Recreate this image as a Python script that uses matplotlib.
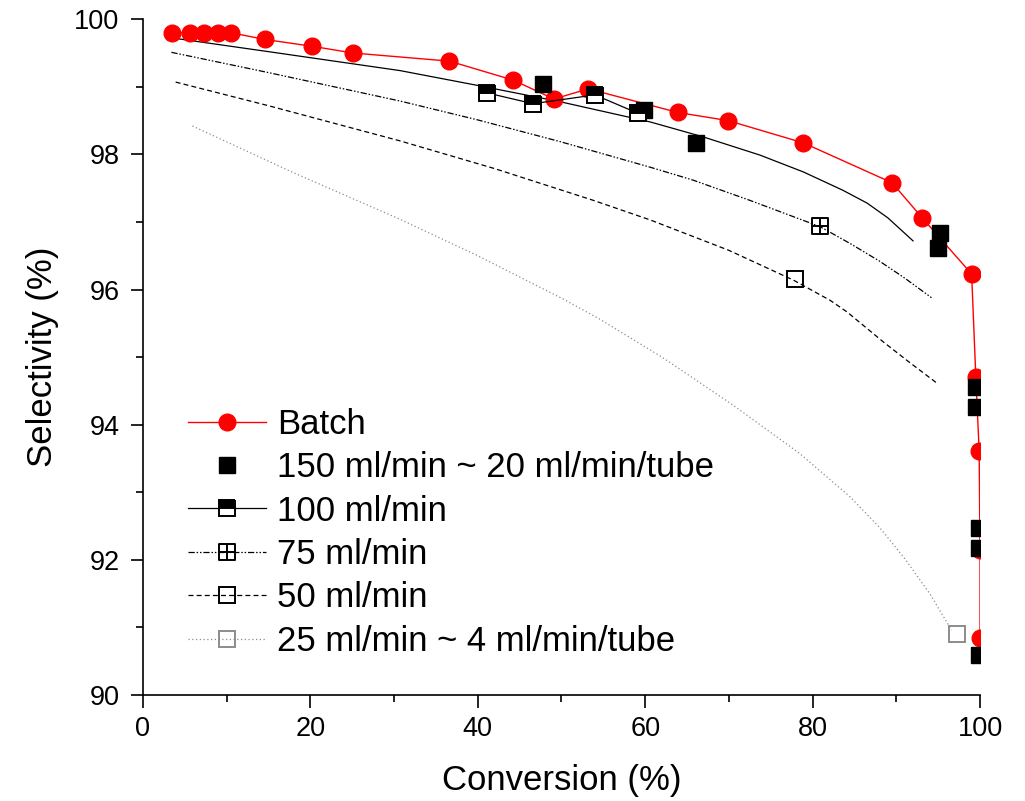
import matplotlib
matplotlib.use("Agg")
import matplotlib.pyplot as plt
from matplotlib.path import Path
from matplotlib.ticker import MultipleLocator

plt.rcParams['font.family'] = ['Liberation Sans', 'DejaVu Sans']

# Batch reactor
batch_conv = [3.5, 5.6, 7.3, 9.0, 10.5, 14.6, 20.2, 25.1, 36.6, 44.2, 49.1, 53.2,
              63.9, 69.9, 78.9, 89.5, 93.1, 99.0, 99.5, 99.9, 100.0, 100.0]
batch_sel = [99.8, 99.8, 99.8, 99.8, 99.8, 99.7, 99.6, 99.5, 99.38, 99.1, 98.82, 98.97,
             98.62, 98.5, 98.17, 97.58, 97.06, 96.23, 94.71, 93.61, 92.14, 90.84]

# 150 ml/min ~ 20 ml/min/tube
f150_conv = [47.8, 59.8, 66.1, 95.2, 95.0, 99.5, 99.5, 99.9, 99.9, 99.9]
f150_sel = [99.04, 98.65, 98.17, 96.83, 96.62, 94.56, 94.26, 92.47, 92.18, 90.59]

# 100 ml/min measured points
f100_conv = [41.1, 46.6, 54.0, 59.1]
f100_sel = [98.91, 98.75, 98.88, 98.61]

# single points at lower flows
f75_conv, f75_sel = [80.9], [96.94]
f50_conv, f50_sel = [77.9], [96.15]
f25_conv, f25_sel = [97.2], [90.90]

# model curves
c100_x = [3.1, 15.0, 30.7, 40.0, 49.8, 60.6, 66.9, 73.7, 78.9, 83.6, 86.5, 89.0, 92.0]
c100_y = [99.73, 99.52, 99.24, 99.02, 98.78, 98.48, 98.26, 97.99, 97.74, 97.47, 97.28, 97.06, 96.72]
c75_x = [3.4, 15.0, 30.7, 40.0, 49.8, 60.6, 65.7, 72.5, 80.9, 84.5, 88.0, 91.0, 94.2]
c75_y = [99.51, 99.21, 98.79, 98.51, 98.19, 97.81, 97.62, 97.32, 96.93, 96.68, 96.42, 96.17, 95.88]
c50_x = [3.9, 15.0, 30.7, 42.0, 53.8, 60.6, 70.0, 77.7, 82.1, 84.1, 88.5, 91.5, 94.8]
c50_y = [99.07, 98.72, 98.2, 97.79, 97.32, 97.03, 96.58, 96.14, 95.84, 95.67, 95.22, 94.93, 94.62]
c25_x = [5.9, 17.6, 30.7, 40.0, 50.2, 54.6, 62.0, 70.5, 78.5, 84.5, 88.0, 91.0, 94.0, 96.6]
c25_y = [98.42, 97.75, 97.04, 96.5, 95.86, 95.56, 95.0, 94.29, 93.57, 92.93, 92.48, 92.02, 91.5, 90.96]

# square with a cross inside
boxcross = Path([(-1, -1), (1, -1), (1, 1), (-1, 1), (-1, -1),
                 (0, -1), (0, 1), (-1, 0), (1, 0)],
                [Path.MOVETO, Path.LINETO, Path.LINETO, Path.LINETO, Path.CLOSEPOLY,
                 Path.MOVETO, Path.LINETO, Path.MOVETO, Path.LINETO])

dashdotdot = (0, (5, 1.5, 1.2, 1.5, 1.2, 1.5))
dashed = (0, (4, 2.5))
dotted = (0, (1, 2))
grey = '#8c8c8c'

fig = plt.figure(figsize=(10.25, 8.01), dpi=100)
ax = fig.add_axes([0.1395, 0.1323, 0.8166, 0.8437])

ax.plot(c100_x, c100_y, color='black', lw=0.9, zorder=2)
ax.plot(c75_x, c75_y, color='black', lw=0.9, ls=dashdotdot, zorder=2)
ax.plot(c50_x, c50_y, color='black', lw=0.9, ls=dashed, zorder=2)
ax.plot(c25_x, c25_y, color=grey, lw=0.9, ls=dotted, zorder=2)

ax.plot(batch_conv, batch_sel, color='red', lw=1.0, marker='o', ms=12,
        mfc='red', mec='red', label='Batch', zorder=3)
ax.plot(f150_conv, f150_sel, ls='none', marker='s', ms=11, mfc='black',
        mec='black', label='150 ml/min ~ 20 ml/min/tube', zorder=4)
ax.plot(f100_conv, f100_sel, color='black', lw=0.9, marker='s', ms=12,
        fillstyle='top', mfc='black', mfcalt='white', mec='black', mew=1.4,
        label='100 ml/min', zorder=4)
ax.plot(f75_conv, f75_sel, color='black', lw=0.9, ls=dashdotdot, marker=boxcross,
        ms=12, mfc='none', mec='black', mew=1.4, label='75 ml/min', zorder=4)
ax.plot(f50_conv, f50_sel, color='black', lw=0.9, ls=dashed, marker='s', ms=12,
        mfc='none', mec='black', mew=1.4, label='50 ml/min', zorder=4)
ax.plot(f25_conv, f25_sel, color=grey, lw=0.9, ls=dotted, marker='s', ms=12,
        mfc='none', mec=grey, mew=1.4, label='25 ml/min ~ 4 ml/min/tube', zorder=4)

ax.set_xlim(0, 100)
ax.set_ylim(90, 100)
ax.xaxis.set_major_locator(MultipleLocator(20))
ax.xaxis.set_minor_locator(MultipleLocator(10))
ax.yaxis.set_major_locator(MultipleLocator(2))
ax.yaxis.set_minor_locator(MultipleLocator(1))
ax.spines['top'].set_visible(False)
ax.spines['right'].set_visible(False)
for s in ('left', 'bottom'):
    ax.spines[s].set_linewidth(1.2)
ax.tick_params(which='major', direction='out', length=9, width=1.2, labelsize=19.5, pad=6)
ax.tick_params(axis='y', which='major', pad=8)
ax.tick_params(which='minor', direction='out', length=5, width=1.2)

ax.set_xlabel('Conversion (%)', fontsize=25, labelpad=16)
ax.set_ylabel('Selectivity (%)', fontsize=25, labelpad=11)

ax.legend(loc='upper left', bbox_to_anchor=(0.054, 0.425), frameon=False,
          fontsize=25, handlelength=2.25, handletextpad=0.3, labelspacing=0.3,
          borderpad=0, borderaxespad=0, numpoints=1)

fig.savefig('out.png', dpi=100)
